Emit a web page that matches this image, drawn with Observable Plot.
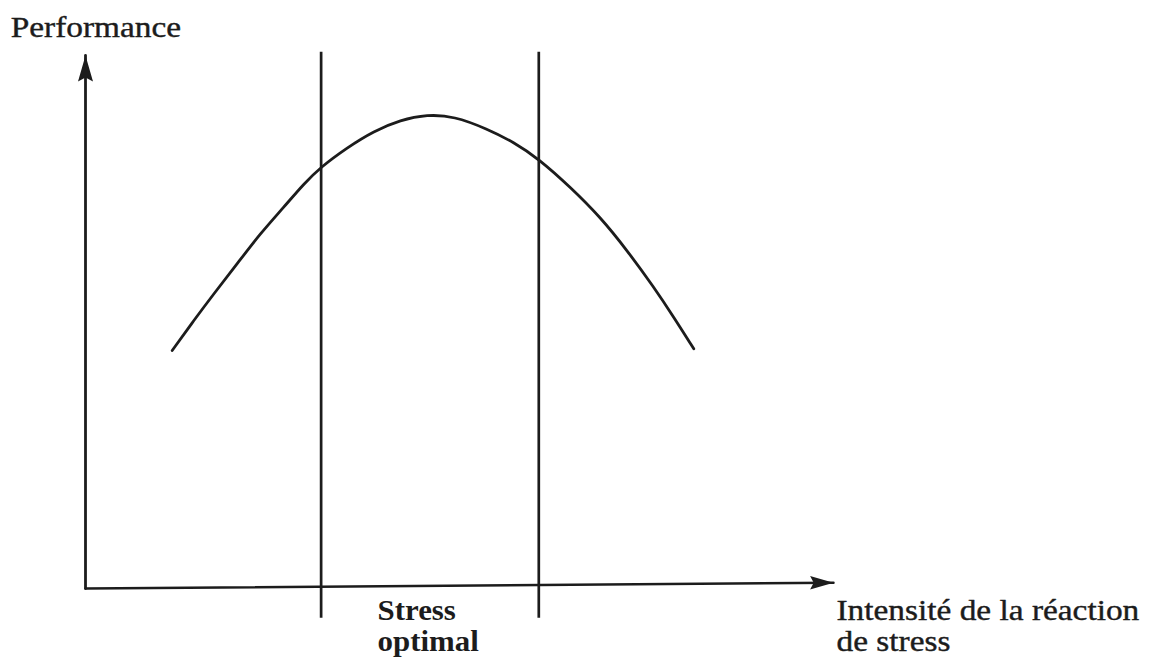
<!DOCTYPE html>
<html>
<head>
<meta charset="utf-8">
<script src="https://cdn.jsdelivr.net/npm/d3@7"></script>
<script src="https://cdn.jsdelivr.net/npm/@observablehq/plot@0.6"></script>
<style>
  html, body { margin: 0; padding: 0; background: #fff; }
  #chart svg { display: block; }
</style>
</head>
<body>
<div id="chart"></div>
<script>
// Inverted-U curve: stress intensity (x) vs performance (y), arbitrary units 0–10
const stress      = [1.159, 1.448, 1.715, 2.028, 2.340, 2.651, 2.918, 3.142, 3.499, 3.854, 4.211, 4.568, 4.924, 5.370, 5.726, 6.060, 6.484, 6.885, 7.242, 7.598, 7.865, 8.132];
const performance = [4.455, 5.019, 5.521, 6.085, 6.660, 7.148, 7.588, 7.900, 8.270, 8.580, 8.790, 8.890, 8.860, 8.622, 8.370, 8.058, 7.524, 6.961, 6.335, 5.645, 5.081, 4.487];
// Bounds of the optimal stress zone
const optimalBounds = [3.15, 6.06];
// Axis endpoints (origin and arrow tips)
const xAxisX = [0, 10];
const xAxisY = [-0.02, 0.09];
const yAxisX = [0, 0];
const yAxisY = [-0.02, 10];
// Labels
const yLabel = "Performance";
const xLabel = "Intensité de la réaction\nde stress";
const bandLabel = "Stress\noptimal";

const curve = stress.map((s, i) => ({s, p: performance[i]}));
const xAxis = xAxisX.map((x, i) => ({x, y: xAxisY[i]}));
const yAxis = yAxisX.map((x, i) => ({x, y: yAxisY[i]}));

const ink = "#1c1c1c";
const font = "'Liberation Serif', 'Times New Roman', serif";

// Arrowhead symbol: tip at origin, pointing up
const arrowHead = {
  draw(context, size) {
    const k = Math.sqrt(size / Math.PI) / 10;
    context.moveTo(0, 0);
    context.lineTo(7.5 * k, 26 * k);
    context.lineTo(0, 22 * k);
    context.lineTo(-7.5 * k, 26 * k);
    context.closePath();
  }
};

const chart = Plot.plot({
  width: 1153,
  height: 658,
  margin: 0,
  style: {background: "#fff", fontFamily: font, color: ink, overflow: "visible"},
  x: {domain: [0, 10], range: [85, 833], axis: null},
  y: {domain: [0, 10], range: [587, 55], axis: null},
  marks: [
    // axes
    Plot.line(xAxis, {x: "x", y: "y", stroke: ink, strokeWidth: 2.5}),
    Plot.line(yAxis, {x: "x", y: "y", stroke: ink, strokeWidth: 2.8}),
    Plot.dot([xAxis[1]], {x: "x", y: "y", symbol: arrowHead, r: 9, rotate: 90, fill: ink, stroke: "none"}),
    Plot.dot([yAxis[1]], {x: "x", y: "y", symbol: arrowHead, r: 10, rotate: 0, fill: ink, stroke: "none"}),
    // optimal zone bounds
    Plot.ruleX(optimalBounds, {x: d => d, y1: -0.58, y2: 10.06, stroke: ink, strokeWidth: 2.7}),
    // performance curve
    Plot.line(curve, {x: "s", y: "p", curve: "basis", stroke: ink, strokeWidth: 2.8}),
    // labels
    Plot.text([yLabel], {x: -1.0, y: 10.73, text: d => d, textAnchor: "start", lineAnchor: "top",
      fontSize: 29, fill: ink, stroke: ink, strokeWidth: 0.4, fontFamily: font}),
    Plot.text([bandLabel], {x: 3.904, y: -0.182, text: d => d, textAnchor: "start", lineAnchor: "top",
      fontSize: 30, fontWeight: "bold", lineHeight: 1.05, fill: ink, fontFamily: font}),
    Plot.text([xLabel], {x: 10.04, y: -0.195, text: d => d, textAnchor: "start", lineAnchor: "top",
      fontSize: 29, lineHeight: 1.08, fill: ink, stroke: ink, strokeWidth: 0.4, fontFamily: font})
  ]
});

// scanned original is slightly stretched horizontally
d3.select(chart).selectAll("g[aria-label='text'] text").each(function() {
  const t = this.getAttribute("transform") || "";
  const bold = this.parentNode.getAttribute("font-weight") === "bold" || this.getAttribute("font-weight") === "bold";
  this.setAttribute("transform", t + (bold ? " scale(1.03,1)" : " scale(1.15,1)"));
});

document.getElementById("chart").appendChild(chart);
</script>
</body>
</html>
